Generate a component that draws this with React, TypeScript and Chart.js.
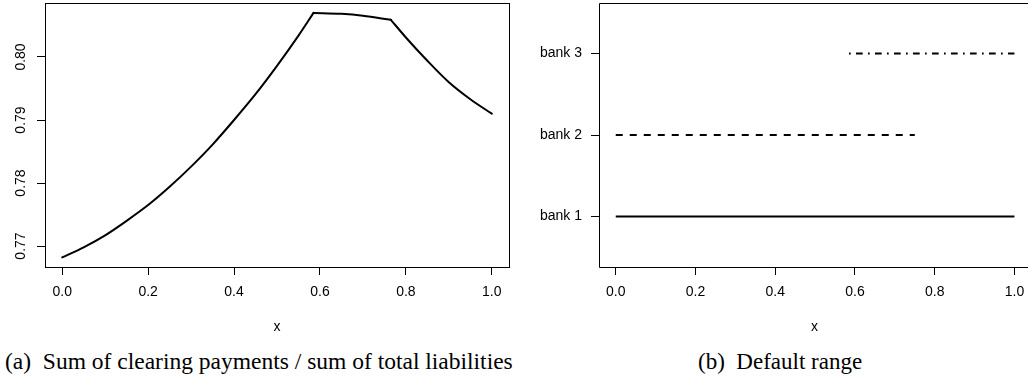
import React, { useEffect, useRef } from 'react';
import { Chart, registerables } from 'chart.js';

Chart.register(...registerables);

// ---- data ----
const curveX = [0, 0.05, 0.1, 0.15, 0.2, 0.25, 0.3, 0.35, 0.4, 0.45, 0.5, 0.55, 0.585, 0.65, 0.7, 0.765, 0.8, 0.85, 0.9, 0.95, 1.0];
const curveY = [0.7682, 0.7698, 0.7717, 0.7740, 0.7765, 0.7794, 0.7826, 0.7861, 0.7900, 0.7941, 0.7986, 0.8034, 0.8070, 0.80685, 0.80655, 0.8059, 0.8031, 0.7994, 0.7960, 0.7933, 0.7910];
const kinkIdx = [0, 12, 15, 20]; // indices where the curve has corners (segment ends)
const xTicks = [0, 0.2, 0.4, 0.6, 0.8, 1.0];
const yTicksA = [0.77, 0.78, 0.79, 0.80];
const bankLabels = ['bank 1', 'bank 2', 'bank 3'];
const bankLevels = [1, 2, 3];
const bankFrom = [0, 0, 0.585];
const bankTo = [1, 0.75, 1];
const captionA = '(a)  Sum of clearing payments / sum of total liabilities';
const captionB = '(b)  Default range';
const axisTitle = 'x';

const FONT = "'Liberation Sans', Arial, Helvetica, sans-serif";
const SERIF = "'Liberation Serif', 'Times New Roman', Times, serif";
const CANVAS_H = 345;
const PLOT_BOTTOM = 267;

const gridCfg = {
  display: true,
  drawOnChartArea: false,
  drawTicks: true,
  tickLength: 8,
  color: '#000',
  lineWidth: 1,
};

const zeroPad = (s: any) => {
  s.paddingTop = 0;
  s.paddingBottom = 0;
  s.paddingLeft = 0;
  s.paddingRight = 0;
};

function CurveChart() {
  const ref = useRef<HTMLCanvasElement>(null);
  useEffect(() => {
    const plugin = {
      id: 'rboxA',
      afterDraw(chart: any) {
        const { ctx, chartArea: a, scales } = chart;
        ctx.save();
        ctx.strokeStyle = '#000';
        ctx.lineWidth = 1;
        ctx.strokeRect(Math.round(a.left) + 0.5, Math.round(a.top) + 0.5, Math.round(a.right - a.left), Math.round(a.bottom - a.top));
        ctx.fillStyle = '#000';
        ctx.font = `14px ${FONT}`;
        ctx.textAlign = 'center';
        ctx.textBaseline = 'middle';
        yTicksA.forEach((v) => {
          const y = scales.y.getPixelForValue(v);
          ctx.save();
          ctx.translate(21, y);
          ctx.rotate(-Math.PI / 2);
          ctx.fillText(v.toFixed(2), 0, 0);
          ctx.restore();
        });
        ctx.fillText(axisTitle, (a.left + a.right) / 2, 327);
        ctx.restore();
      },
    };
    const segments = [];
    for (let k = 0; k < kinkIdx.length - 1; k++) {
      const pts = [];
      for (let i = kinkIdx[k]; i <= kinkIdx[k + 1]; i++) pts.push({ x: curveX[i], y: curveY[i] });
      segments.push({
        data: pts,
        borderColor: '#000',
        borderWidth: 2,
        pointRadius: 0,
        cubicInterpolationMode: 'monotone',
        borderJoinStyle: 'round',
        borderCapStyle: 'round',
      });
    }
    const chart = new Chart(ref.current as HTMLCanvasElement, {
      type: 'line',
      data: { datasets: segments },
      options: {
        animation: false,
        responsive: false,
        devicePixelRatio: 1,
        layout: { padding: { top: 3, right: 11, left: 0, bottom: 0 } },
        plugins: { legend: { display: false }, tooltip: { enabled: false } },
        scales: {
          x: {
            type: 'linear',
            min: -0.04,
            max: 1.04,
            afterBuildTicks: (s: any) => { s.ticks = xTicks.map((v) => ({ value: v })); },
            afterFit: (s: any) => { s.height = CANVAS_H - PLOT_BOTTOM; zeroPad(s); },
            ticks: { color: '#000', font: { family: FONT, size: 14 }, padding: 9, maxRotation: 0, callback: (v: any) => Number(v).toFixed(1) },
            grid: gridCfg,
            border: { display: false },
          },
          y: {
            type: 'linear',
            min: 0.76667,
            max: 0.80857,
            afterBuildTicks: (s: any) => { s.ticks = yTicksA.map((v) => ({ value: v })); },
            afterFit: (s: any) => { s.width = 45; zeroPad(s); },
            ticks: { display: false },
            grid: gridCfg,
            border: { display: false },
          },
        },
      } as any,
      plugins: [plugin],
    });
    return () => chart.destroy();
  }, []);
  return <canvas ref={ref} width={520} height={CANVAS_H} style={{ position: 'absolute', left: 0, top: 0, width: 520, height: CANVAS_H }} />;
}

function RangeChart() {
  const ref = useRef<HTMLCanvasElement>(null);
  useEffect(() => {
    const dashes = [[], [7, 7], [1.7, 5.3, 6.7, 5.3]];
    const plugin = {
      id: 'rboxB',
      afterDraw(chart: any) {
        const { ctx, chartArea: a } = chart;
        ctx.save();
        ctx.strokeStyle = '#000';
        ctx.lineWidth = 1;
        const l = Math.round(a.left) + 0.5;
        const t = Math.round(a.top) + 0.5;
        const b = Math.round(a.bottom) + 0.5;
        ctx.beginPath();
        ctx.moveTo(a.right, t);
        ctx.lineTo(l, t);
        ctx.lineTo(l, b);
        ctx.lineTo(a.right, b);
        ctx.stroke();
        ctx.fillStyle = '#000';
        ctx.font = `14px ${FONT}`;
        ctx.textAlign = 'center';
        ctx.textBaseline = 'middle';
        ctx.fillText(axisTitle, 814.5 - 520, 327);
        ctx.restore();
      },
    };
    const chart = new Chart(ref.current as HTMLCanvasElement, {
      type: 'line',
      data: {
        datasets: bankLevels.map((lvl, i) => ({
          data: [{ x: bankFrom[i], y: lvl }, { x: bankTo[i], y: lvl }],
          borderColor: '#000',
          borderWidth: 2,
          borderDash: dashes[i],
          borderCapStyle: 'butt',
          pointRadius: 0,
        })),
      },
      options: {
        animation: false,
        responsive: false,
        devicePixelRatio: 1,
        layout: { padding: { top: 3, right: 0, left: 0, bottom: 0 } },
        plugins: { legend: { display: false }, tooltip: { enabled: false } },
        scales: {
          x: {
            type: 'linear',
            min: -0.042,
            max: 1.034,
            afterBuildTicks: (s: any) => { s.ticks = xTicks.map((v) => ({ value: v })); },
            afterFit: (s: any) => { s.height = CANVAS_H - PLOT_BOTTOM; zeroPad(s); },
            ticks: { color: '#000', font: { family: FONT, size: 14 }, padding: 9, maxRotation: 0, callback: (v: any) => Number(v).toFixed(1) },
            grid: gridCfg,
            border: { display: false },
          },
          y: {
            type: 'linear',
            min: 0.38,
            max: 3.62,
            afterBuildTicks: (s: any) => { s.ticks = bankLevels.map((v) => ({ value: v })); },
            afterFit: (s: any) => { s.width = 79; zeroPad(s); },
            ticks: {
              color: '#000',
              font: { family: FONT, size: 14 },
              padding: 9,
              callback: (v: any) => bankLabels[bankLevels.indexOf(Number(v))] ?? '',
            },
            grid: gridCfg,
            border: { display: false },
          },
        },
      } as any,
      plugins: [plugin],
    });
    return () => chart.destroy();
  }, []);
  return <canvas ref={ref} width={508} height={CANVAS_H} style={{ position: 'absolute', left: 520, top: 0, width: 508, height: CANVAS_H }} />;
}

export default function App() {
  const cap: React.CSSProperties = {
    position: 'absolute',
    top: 350,
    fontFamily: SERIF,
    fontSize: 23,
    lineHeight: 1,
    whiteSpace: 'pre',
    color: '#000',
  };
  return (
    <div style={{ position: 'absolute', left: 0, top: 0, width: 1028, height: 379, overflow: 'hidden', background: '#fff' }}>
      <CurveChart />
      <RangeChart />
      <div style={{ ...cap, left: 5, fontSize: 23.5 }}>{captionA}</div>
      <div style={{ ...cap, left: 698 }}>{captionB}</div>
    </div>
  );
}
